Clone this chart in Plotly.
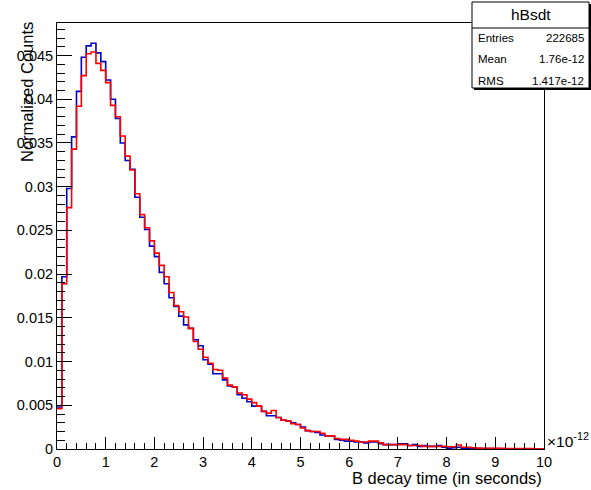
import numpy as np
import plotly.graph_objects as go

# Binning of the decay-time histograms (units of 1e-12 s)
n_bins = 100
t_min, t_max = 0.0, 10.0

# Normalized counts per bin, first histogram (hBsdt, blue)
counts_blue = [
    0.0048, 0.0197, 0.0298, 0.0357, 0.0409, 0.0448, 0.0461, 0.0464, 0.0453, 0.0443,
    0.0422, 0.0400, 0.0378, 0.0350, 0.0330, 0.0320, 0.0288, 0.0265, 0.0251, 0.0232,
    0.0220, 0.0202, 0.0189, 0.0173, 0.0163, 0.0152, 0.0142, 0.0138, 0.0125, 0.0118,
    0.0102, 0.0097, 0.0086, 0.0086, 0.0079, 0.0072, 0.0071, 0.0062, 0.0058, 0.0054,
    0.0049, 0.0049, 0.0043, 0.0038, 0.0038, 0.0036, 0.0033, 0.0032, 0.0030, 0.0028,
    0.0025, 0.0021, 0.0020, 0.0019, 0.0016, 0.0015, 0.0015, 0.0011, 0.0010, 0.0009,
    0.0009, 0.0008, 0.0008, 0.0007, 0.0008, 0.0008, 0.0006, 0.0005, 0.0005, 0.0005,
    0.0006, 0.0006, 0.0004, 0.0005, 0.0003, 0.0004, 0.0003, 0.0003, 0.0004, 0.0002,
    0.0001, 0.00015, 0.0002, 0.0001, 0.0001, 0.0001, 0.00006, 0.00005, 0.00005, 0.00004,
    0.00004, 0.00003, 0.00003, 0.00003, 0.00002, 0.00002, 0.00002, 0.00002, 0.00001, 0.00001,
]

# Normalized counts per bin, second histogram (red)
counts_red = [
    0.0046, 0.0189, 0.0276, 0.0343, 0.0392, 0.0427, 0.0452, 0.0454, 0.0441, 0.0433,
    0.0419, 0.0393, 0.0380, 0.0358, 0.0335, 0.0319, 0.0292, 0.0268, 0.0253, 0.0238,
    0.0224, 0.0210, 0.0197, 0.0179, 0.0164, 0.0157, 0.0151, 0.0138, 0.0123, 0.0114,
    0.0105, 0.0098, 0.0091, 0.0090, 0.0081, 0.0073, 0.0071, 0.0064, 0.0062, 0.0057,
    0.0053, 0.0049, 0.0043, 0.0041, 0.0044, 0.0036, 0.0033, 0.0032, 0.0029, 0.0028,
    0.0024, 0.0021, 0.0020, 0.0020, 0.0018, 0.0015, 0.0015, 0.0012, 0.0011, 0.0011,
    0.0010, 0.0009, 0.0008, 0.0008, 0.0009, 0.0009, 0.0007, 0.0005, 0.0005, 0.0005,
    0.0005, 0.0005, 0.0004, 0.0004, 0.0004, 0.0003, 0.0003, 0.0003, 0.0003, 0.0003,
    0.00025, 0.00025, 0.00045, 0.0002, 0.0002, 0.00015, 0.0001, 0.00009, 0.00008, 0.00008,
    0.00007, 0.00007, 0.00006, 0.00006, 0.00005, 0.00005, 0.00004, 0.00004, 0.00003, 0.00003,
]

# Axis ticks
x_ticks = list(range(0, 11))
y_ticks = [0, 0.005, 0.01, 0.015, 0.02, 0.025, 0.03, 0.035, 0.04, 0.045]
y_tick_labels = ["0", "0.005", "0.01", "0.015", "0.02", "0.025", "0.03", "0.035", "0.04", "0.045"]

# Statistics box contents
stats_title = "hBsdt"
stats_rows = [("Entries", "222685"), ("Mean", "1.76e-12"), ("RMS", "1.417e-12")]

edges = np.linspace(t_min, t_max, n_bins + 1)
y_max = max(max(counts_blue), max(counts_red)) * 1.05

FONT = "Liberation Sans, Arial, sans-serif"
W, H = 591, 490
L, R, T, B = 57, 47, 23, 41
PW, PH = W - L - R, H - T - B


def px_x(px):
    return (px - L) / PW


def px_y(py):
    return (H - B - py) / PH


fig = go.Figure()
for vals, color in ((counts_blue, "#0000c8"), (counts_red, "#ff0000")):
    fig.add_trace(go.Scatter(
        x=edges, y=list(vals) + [vals[-1]],
        mode="lines", line=dict(color=color, width=1.6, shape="hv"),
        hoverinfo="skip", showlegend=False,
    ))

fig.update_layout(
    width=W, height=H,
    margin=dict(l=L, r=R, t=T, b=B),
    paper_bgcolor="white", plot_bgcolor="white",
    font=dict(family=FONT, size=14, color="black"),
    showlegend=False,
)

fig.update_xaxes(
    range=[t_min, t_max], tickvals=x_ticks, ticks="inside", ticklen=12,
    tickwidth=1, tickcolor="black", showline=True, linecolor="black",
    linewidth=1, mirror=True, showgrid=False, zeroline=False,
    tickfont=dict(size=14.5),
    minor=dict(ticks="inside", ticklen=6, dtick=0.2, tickcolor="black", showgrid=False),
)
fig.update_yaxes(
    range=[0, y_max], tickvals=y_ticks, ticktext=y_tick_labels, ticks="inside",
    ticklen=15, tickwidth=1, tickcolor="black", showline=True, linecolor="black",
    linewidth=1, mirror=True, showgrid=False, zeroline=False,
    tickfont=dict(size=14.5), ticklabelstandoff=0,
    minor=dict(ticks="inside", ticklen=8, dtick=0.001, tickcolor="black", showgrid=False),
)

annotations = [
    dict(text="B decay time (in seconds)", x=1, y=px_y(478), xref="paper", yref="paper",
         xanchor="right", yanchor="middle", showarrow=False, font=dict(size=16.5)),
    dict(text="Normalized Counts", x=px_x(27), y=px_y(20), xref="paper", yref="paper",
         xanchor="center", yanchor="top", textangle=-90, showarrow=False,
         font=dict(size=16.5)),
    dict(text="×10<sup>-12</sup>", x=px_x(545), y=px_y(440), xref="paper", yref="paper",
         xanchor="left", yanchor="middle", showarrow=False, font=dict(size=15.5)),
]

# Statistics box
bx0, bx1, by0, by1 = 472, 589, 2, 88
shapes = [
    dict(type="rect", xref="paper", yref="paper",
         x0=px_x(bx0 + 2), x1=px_x(bx1 + 2), y0=px_y(by1 + 2), y1=px_y(by0 + 2),
         fillcolor="black", line=dict(width=0), layer="above"),
    dict(type="rect", xref="paper", yref="paper",
         x0=px_x(bx0), x1=px_x(bx1), y0=px_y(by1), y1=px_y(by0),
         fillcolor="white", line=dict(color="black", width=1), layer="above"),
    dict(type="line", xref="paper", yref="paper",
         x0=px_x(bx0), x1=px_x(bx1), y0=px_y(28), y1=px_y(28),
         line=dict(color="black", width=1), layer="above"),
]
annotations.append(dict(text=stats_title, x=px_x((bx0 + bx1) / 2), y=px_y(15),
                        xref="paper", yref="paper", xanchor="center", yanchor="middle",
                        showarrow=False, font=dict(size=15.5)))
for i, (name, value) in enumerate(stats_rows):
    ypos = px_y(38 + 21.5 * i)
    annotations.append(dict(text=name, x=px_x(bx0 + 4), y=ypos, xref="paper", yref="paper",
                            xanchor="left", yanchor="middle", showarrow=False,
                            font=dict(size=11.5)))
    annotations.append(dict(text=value, x=px_x(bx1 - 3), y=ypos, xref="paper", yref="paper",
                            xanchor="right", yanchor="middle", showarrow=False,
                            font=dict(size=11.5)))

fig.update_layout(annotations=annotations, shapes=shapes)
fig.write_html("out.html")
